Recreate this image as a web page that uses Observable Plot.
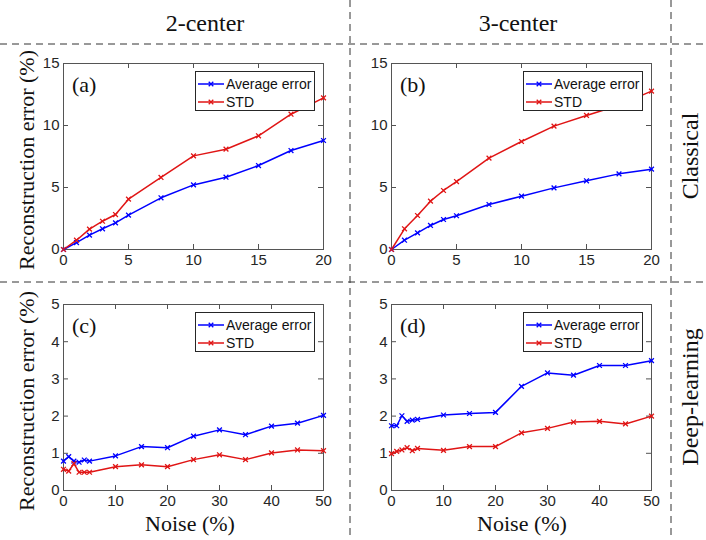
<!DOCTYPE html>
<html><head><meta charset="utf-8">
<script src="https://cdn.jsdelivr.net/npm/d3@7"></script>
<script src="https://cdn.jsdelivr.net/npm/@observablehq/plot@0.6"></script>
<style>
body{margin:0;background:#fff;}
#fig{position:relative;width:706px;height:540px;overflow:hidden;background:#fff;}
.txt{position:absolute;white-space:nowrap;color:#111;line-height:1;}
.rot{transform:translate(-50%,-50%) rotate(-90deg);}
.ctr{transform:translate(-50%,-50%);}
.plotbox{position:absolute;}
.legend{position:absolute;border:1px solid #262626;background:#fff;font-family:"Liberation Sans",Arial,sans-serif;font-size:14px;color:#111;box-sizing:border-box;z-index:5;}
.legrow{position:absolute;left:0;height:18px;display:flex;align-items:center;}
</style></head><body><div id="fig"></div>
<script>
// ---------- data ----------
const noiseClassical = [0, 1, 2, 3, 4, 5, 7.5, 10, 12.5, 15, 17.5, 20];
const noiseDeep = [0, 1, 2, 3, 4, 5, 10, 15, 20, 25, 30, 35, 40, 45, 50];

const avgA = [0, 0.56, 1.16, 1.67, 2.15, 2.77, 4.17, 5.21, 5.83, 6.77, 7.98, 8.79];
const stdA = [0, 0.75, 1.64, 2.28, 2.82, 4.06, 5.81, 7.55, 8.09, 9.17, 10.91, 12.23];

const avgB = [0, 0.75, 1.34, 1.94, 2.42, 2.72, 3.63, 4.30, 4.97, 5.54, 6.10, 6.48];
const stdB = [0, 1.67, 2.74, 3.90, 4.76, 5.48, 7.37, 8.71, 9.95, 10.81, 11.64, 12.77];

const avgC = [0.79, 0.91, 0.79, 0.76, 0.82, 0.79, 0.93, 1.18, 1.15, 1.46, 1.63, 1.50, 1.73, 1.81, 2.02];
const stdC = [0.57, 0.52, 0.72, 0.49, 0.49, 0.49, 0.64, 0.69, 0.64, 0.83, 0.96, 0.83, 1.01, 1.09, 1.07];

const avgD = [1.74, 1.74, 2.01, 1.86, 1.89, 1.91, 2.03, 2.07, 2.10, 2.80, 3.16, 3.10, 3.36, 3.36, 3.49];
const stdD = [0.99, 1.05, 1.09, 1.15, 1.07, 1.13, 1.08, 1.18, 1.18, 1.55, 1.67, 1.84, 1.86, 1.79, 2.00];

const xTicksClassical = [0, 5, 10, 15, 20];
const yTicksClassical = [0, 5, 10, 15];
const xTicksDeep = [0, 10, 20, 30, 40, 50];
const yTicksDeep = [0, 1, 2, 3, 4, 5];

const seriesNames = ["Average error", "STD"];
const panelLabels = ["(a)", "(b)", "(c)", "(d)"];
const colHeaders = ["2-center", "3-center"];
const rowHeaders = ["Classical", "Deep-learning"];
const yLabel = "Reconstruction error (%)";
const xLabel = "Noise (%)";

// ---------- styling ----------
const SERIF = "'Liberation Serif', Tinos, 'Times New Roman', 'DejaVu Serif', serif";
const BLUE = "#0000ff";
const RED = "#e01515";
const AXC = "#262626";
const FW = 260, FH = 186;           // frame size
const ML = 50, MR = 12, MT = 10, MB = 32;

const fig = document.getElementById("fig");

function panel(opt) {
  const {x, avg, std, xDomain, yDomain, xTicks, yTicks, left, top, label} = opt;
  const rows = [];
  x.forEach((v, i) => {
    rows.push({x: v, y: avg[i], s: seriesNames[0]});
    rows.push({x: v, y: std[i], s: seriesNames[1]});
  });
  const W = FW + ML + MR, H = FH + MT + MB;
  const svg = Plot.plot({
    width: W, height: H,
    marginLeft: ML, marginRight: MR, marginTop: MT, marginBottom: MB,
    style: {fontFamily: "'Liberation Sans', Arial, sans-serif", fontSize: "15px", color: AXC, background: "transparent", overflow: "visible"},
    x: {domain: xDomain, label: null},
    y: {domain: yDomain, label: null},
    color: {domain: seriesNames, range: [BLUE, RED]},
    marks: [
      Plot.axisX(xTicks, {tickSize: 0, tickPadding: 5, label: null}),
      Plot.axisY(yTicks, {tickSize: 0, tickPadding: 4, label: null}),
      Plot.tickX(xTicks, {x: d => d, insetTop: FH - 5, stroke: AXC, strokeWidth: 0.8}),
      Plot.tickX(xTicks, {x: d => d, insetBottom: FH - 5, stroke: AXC, strokeWidth: 0.8}),
      Plot.tickY(yTicks, {y: d => d, insetRight: FW - 5, stroke: AXC, strokeWidth: 0.8}),
      Plot.tickY(yTicks, {y: d => d, insetLeft: FW - 5, stroke: AXC, strokeWidth: 0.8}),
      Plot.frame({stroke: "#555", strokeWidth: 1}),
      Plot.line(rows, {x: "x", y: "y", z: "s", stroke: "s", strokeWidth: 1.5}),
      Plot.dot(rows, {x: "x", y: "y", stroke: "s", symbol: "times", r: 2.3, strokeWidth: 1.3})
    ]
  });
  const box = document.createElement("div");
  box.className = "plotbox";
  box.style.left = (left - ML) + "px";
  box.style.top = (top - MT) + "px";
  box.appendChild(svg);
  fig.appendChild(box);

  // panel label
  const pl = document.createElement("div");
  pl.className = "txt";
  pl.style.fontFamily = SERIF;
  pl.style.fontSize = "22px";
  pl.style.left = (left + 9) + "px";
  pl.style.top = (top + 11) + "px";
  pl.textContent = label;
  fig.appendChild(pl);

  // legend
  const lg = document.createElement("div");
  lg.className = "legend";
  lg.style.left = (left + FW - 128) + "px";
  lg.style.top = (top + 8) + "px";
  lg.style.width = "120px";
  lg.style.height = "40px";
  [BLUE, RED].forEach((c, i) => {
    const r = document.createElement("div");
    r.className = "legrow";
    r.style.top = (i === 0 ? 3 : 21) + "px";
    r.innerHTML = `<svg width="30" height="18" style="display:block"><line x1="2" y1="9" x2="28" y2="9" stroke="${c}" stroke-width="1.5"/><path d="M12.7,6.7L17.3,11.3M12.7,11.3L17.3,6.7" stroke="${c}" stroke-width="1.3"/></svg><span>${seriesNames[i]}</span>`;
    lg.appendChild(r);
  });
  fig.appendChild(lg);
}

panel({x: noiseClassical, avg: avgA, std: stdA, xDomain: [0, 20], yDomain: [0, 15], xTicks: xTicksClassical, yTicks: yTicksClassical, left: 63, top: 63, label: panelLabels[0]});
panel({x: noiseClassical, avg: avgB, std: stdB, xDomain: [0, 20], yDomain: [0, 15], xTicks: xTicksClassical, yTicks: yTicksClassical, left: 391, top: 63, label: panelLabels[1]});
panel({x: noiseDeep, avg: avgC, std: stdC, xDomain: [0, 50], yDomain: [0, 5], xTicks: xTicksDeep, yTicks: yTicksDeep, left: 63, top: 304, label: panelLabels[2]});
panel({x: noiseDeep, avg: avgD, std: stdD, xDomain: [0, 50], yDomain: [0, 5], xTicks: xTicksDeep, yTicks: yTicksDeep, left: 391, top: 304, label: panelLabels[3]});

// ---------- text ----------
function addText(t, x, y, size, cls) {
  const d = document.createElement("div");
  d.className = "txt " + cls;
  d.style.fontFamily = SERIF;
  d.style.left = x + "px";
  d.style.top = y + "px";
  d.style.fontSize = size + "px";
  d.textContent = t;
  fig.appendChild(d);
}
addText(colHeaders[0], 205, 23, 24, "ctr");
addText(colHeaders[1], 518, 23, 24, "ctr");
addText(rowHeaders[0], 690, 156, 24, "rot");
addText(rowHeaders[1], 690, 397, 24, "rot");
addText(yLabel, 27, 160, 22, "rot");
addText(yLabel, 27, 401, 22, "rot");
addText(xLabel, 190, 524, 22, "ctr");
addText(xLabel, 522, 524, 22, "ctr");

// ---------- dashed separators ----------
const ns = "http://www.w3.org/2000/svg";
const ov = document.createElementNS(ns, "svg");
ov.setAttribute("width", 706); ov.setAttribute("height", 540);
ov.style.position = "absolute"; ov.style.left = "0"; ov.style.top = "0"; ov.style.pointerEvents = "none";
[[0, 44, 706, 44], [0, 282, 706, 282], [350, 0, 350, 540], [671, 0, 671, 540]].forEach(([x1, y1, x2, y2]) => {
  const l = document.createElementNS(ns, "line");
  l.setAttribute("x1", x1); l.setAttribute("y1", y1); l.setAttribute("x2", x2); l.setAttribute("y2", y2);
  l.setAttribute("stroke", "#333"); l.setAttribute("stroke-width", "1"); l.setAttribute("stroke-dasharray", "7,5");
  ov.appendChild(l);
});
fig.appendChild(ov);
</script></body></html>
